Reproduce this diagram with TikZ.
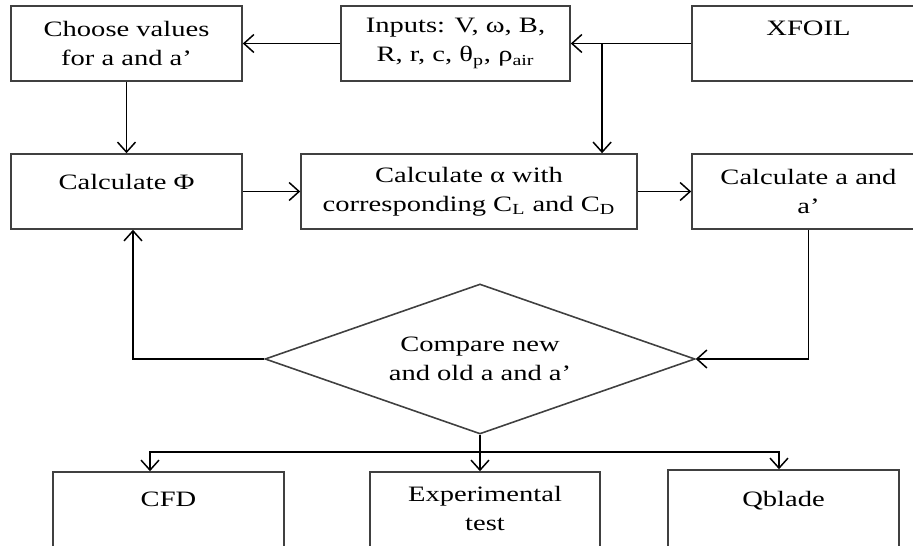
\documentclass[tikz,border=0pt]{standalone}
\usepackage{fontspec}
\setmainfont{Liberation Serif}[FakeStretch=1.3]
\usepackage{tikz}
\usetikzlibrary{arrows.meta,calc,shapes.geometric}

\tikzset{
    box/.style={draw=black!75, line width=0.9pt, minimum width=4.62cm, minimum height=1.5cm,
        inner sep=0pt, align=center, font=\fontsize{12.5}{16.5}\selectfont},
    toptext/.style 2 args={label={[anchor=north, align=center, inner sep=0pt, yshift=#1,
        font=\fontsize{12.5}{16.5}\selectfont]north:#2}},
    arr/.style={-{Straight Barb[length=2mm, width=3.6mm]}, line width=0.85pt},
}

\begin{document}
\begin{tikzpicture}[>=Stealth]

    %% Background
    \useasboundingbox (0,0) rectangle (18.26,-10.92);
    \clip (0,0) rectangle (18.26,-10.92);

    % Top row
    \node[box] (choose) at (2.53,-0.87) {Choose values\\for a and a’};
    \node[box, minimum width=4.58cm] (inputs) at (9.11,-0.87)
        {Inputs: V, ω, B,\\R, r, c, θ\textsubscript{p}, ρ\textsubscript{air}};
    \node[box, minimum width=4.66cm, toptext={-0.3cm}{XFOIL}] (xfoil) at (16.17,-0.87) {};

    % Middle row
    \node[box, toptext={-0.42cm}{Calculate Φ}] (phi) at (2.53,-3.83) {};
    \node[box, minimum width=6.72cm] (alpha) at (9.38,-3.83)
        {Calculate α with\\corresponding C\textsubscript{L} and C\textsubscript{D}};
    \node[box, minimum width=4.66cm] (calca) at (16.17,-3.83) {Calculate a and\\a’};

    % Decision
    \node[diamond, draw=black!75, line width=0.9pt, aspect=2.87, minimum width=8.6cm,
        minimum height=3cm, inner sep=0pt, align=center,
        font=\fontsize{12.5}{16.5}\selectfont] (cmp) at (9.6,-7.18)
        {Compare new\\and old a and a’};

    % Bottom row
    \node[box, minimum height=1.52cm, toptext={-0.4cm}{CFD}] (cfd) at (3.37,-10.2) {};
    \node[box, minimum width=4.6cm, minimum height=1.52cm,
        toptext={-0.3cm}{Experimental\\test}] (exp) at (9.7,-10.2) {};
    \node[box, minimum height=1.56cm, toptext={-0.44cm}{Qblade}] (qblade) at (15.67,-10.18) {};

    % Connectors
    \coordinate (split) at ($(inputs.east)!0.26!(xfoil.west)$);
    \draw[arr] (xfoil.west) -- (inputs.east);
    \draw[arr] (split) -- (split |- alpha.north);
    \draw[arr] (inputs.west) -- (choose.east);
    \draw[arr] (choose) -- (phi);
    \draw[arr] (phi) -- (alpha);
    \draw[arr] (alpha) -- (calca);
    \draw[arr] (calca.south) |- (cmp.east);
    \draw[arr] (cmp.west) -| ([xshift=0.13cm]phi.south);

    % Outputs
    \coordinate (fork) at ([yshift=-0.34cm]cmp.south);
    \draw[line width=0.85pt] (cmp.south) -- (fork);
    \draw[arr] (fork) -| ([xshift=-0.37cm]cfd.north);
    \draw[arr] (fork) -- (fork |- exp.north);
    \draw[arr] (fork) -| ([xshift=-0.09cm]qblade.north);

\end{tikzpicture}
\end{document}
